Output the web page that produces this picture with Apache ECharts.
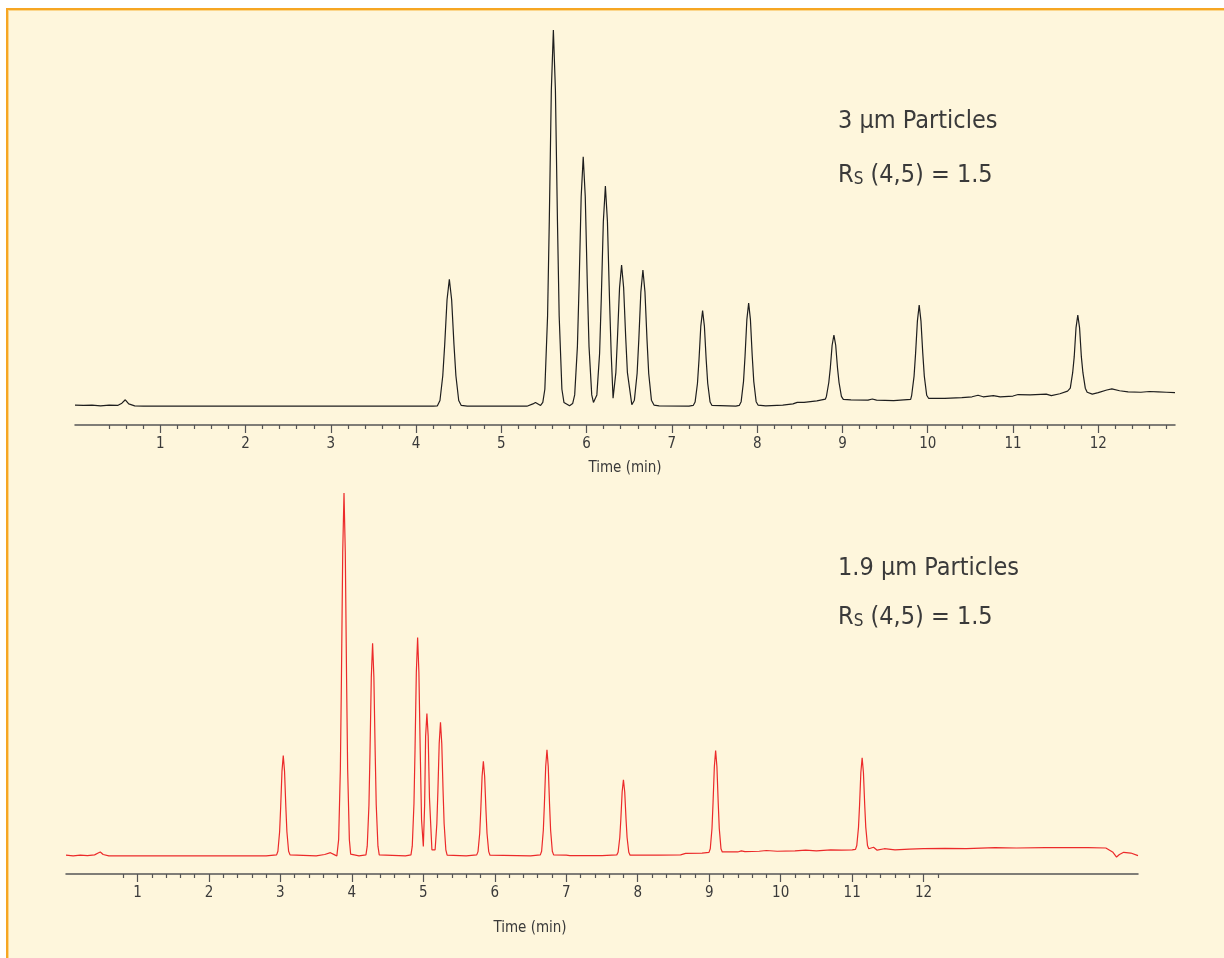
<!DOCTYPE html>
<html>
<head>
<meta charset="utf-8">
<script src="https://cdn.jsdelivr.net/npm/echarts/dist/echarts.min.js"></script>
<style>
  html, body { margin: 0; padding: 0; background: #ffffff; overflow: hidden; }
  #panel { position: absolute; left: 6px; top: 8px; width: 1300px; height: 1000px;
           background: #FEF6DC; border-top: 2px solid #F6A623; border-left: 2px solid #F6A623;
           box-shadow: inset 1px 1px 0 #FBD68C; }
  #chart { position: absolute; left: 0; top: 0; width: 1224px; height: 958px; }
</style>
</head>
<body>
<div id="panel"></div>
<div id="chart"></div>
<script>
// ---- data (time in min, detector signal in relative units) ----
const topTrace = [
  [0.0,0.3],[0.1,0.2],[0.2,0.3],[0.3,0.1],[0.4,0.3],[0.5,0.2],[0.55,0.8],[0.59,1.7],[0.63,0.6],[0.7,0.1],[0.8,0.0],
  [1.5,0.0],[3.0,0.0],[4.2,0.0],
  [4.25,0.1],[4.28,1.5],[4.313,8.1],[4.336,16.5],[4.363,28.3],[4.39,33.7],[4.417,28.3],[4.444,16.5],[4.467,8.1],[4.50,1.5],[4.53,0.2],[4.6,0.0],
  [5.3,0.0],[5.37,0.6],[5.40,1.0],[5.43,0.6],[5.46,0.2],
  [5.486,1.0],[5.51,4.5],[5.542,24],[5.562,49],[5.586,84],[5.61,100],[5.634,84],[5.658,49],[5.678,24],[5.71,4.5],[5.734,1.0],
  [5.80,0.1],
  [5.836,0.7],[5.86,3.0],[5.892,15.9],[5.912,32.5],[5.936,55.7],[5.96,66.3],[5.984,55.7],[6.008,32.5],[6.028,15.9],[6.06,3.0],
  [6.08,1.0],
  [6.12,3.0],[6.152,14],[6.172,28.7],[6.196,49.1],[6.22,58.5],[6.244,49.1],[6.268,28.7],[6.288,14],
  [6.31,2.1],
  [6.343,9.0],[6.362,18.4],[6.386,31.5],[6.41,37.5],[6.434,31.5],[6.458,18.4],[6.478,9.0],
  [6.53,0.4],
  [6.56,1.6],[6.592,8.7],[6.612,17.7],[6.636,30.4],[6.66,36.2],[6.684,30.4],[6.708,17.7],[6.728,8.7],[6.76,1.6],[6.79,0.3],[6.85,0.1],
  [7.2,0.0],
  [7.25,0.2],[7.272,1.1],[7.30,6.1],[7.318,12.4],[7.339,21.3],[7.36,25.4],[7.381,21.3],[7.402,12.4],[7.42,6.1],[7.448,1.1],[7.47,0.2],
  [7.75,0.0],
  [7.79,0.2],[7.812,1.2],[7.84,6.6],[7.858,13.4],[7.879,23],[7.90,27.4],[7.921,23],[7.942,13.4],[7.96,6.6],[7.988,1.2],[8.01,0.3],
  [8.1,0.1],[8.3,0.3],[8.42,0.6],[8.47,1.0],[8.55,1.0],[8.7,1.4],[8.8,1.9],
  [8.812,2.6],[8.84,6.3],[8.858,10.2],[8.879,16.2],[8.90,18.9],[8.921,16.2],[8.942,10.2],[8.96,6.3],[8.988,2.6],[9.01,1.8],
  [9.1,1.7],[9.3,1.6],[9.35,1.9],[9.4,1.6],[9.6,1.5],[9.8,1.8],
  [9.812,2.9],[9.84,8.0],[9.858,14.1],[9.879,22.6],[9.90,26.9],[9.921,22.6],[9.942,14.1],[9.96,8.0],[9.988,2.9],[10.01,2.1],
  [10.2,2.1],[10.4,2.3],[10.52,2.5],[10.59,2.9],[10.65,2.5],[10.77,2.8],[10.85,2.5],[11.0,2.7],[11.06,3.1],[11.2,3.0],[11.39,3.2],[11.45,2.8],[11.55,3.3],[11.64,4.0],
  [11.672,4.8],[11.70,8.9],[11.718,13.1],[11.739,20.8],[11.76,24.2],[11.781,20.8],[11.802,13.1],[11.82,8.9],[11.848,4.8],[11.87,3.7],
  [11.93,3.2],[12.0,3.6],[12.1,4.3],[12.16,4.6],[12.25,4.1],[12.35,3.8],[12.5,3.7],[12.6,3.9],[12.7,3.8],[12.8,3.7],[12.9,3.6]
];

const bottomTrace = [
  [0.0,0.2],[0.1,0.0],[0.2,0.2],[0.3,0.1],[0.4,0.3],[0.45,0.8],[0.48,1.1],[0.52,0.4],[0.6,0.0],[1.5,0.0],[2.8,0.0],
  [2.947,0.3],[2.965,1.3],[2.989,6.7],[3.004,13.6],[3.022,23.4],[3.04,27.8],[3.058,23.4],[3.076,13.6],[3.091,6.7],[3.115,1.3],[3.135,0.3],
  [3.5,0.0],[3.62,0.4],[3.70,0.9],[3.76,0.3],[3.79,0.0],
  [3.797,0.5],[3.815,4.5],[3.839,24],[3.854,49],[3.872,84],[3.89,100.5],[3.908,84],[3.926,49],[3.941,24],[3.965,4.5],[3.983,0.5],
  [4.1,0.0],
  [4.197,0.3],[4.215,2.7],[4.239,14.1],[4.254,28.9],[4.272,49.5],[4.29,58.9],[4.308,49.5],[4.326,28.9],[4.341,14.1],[4.365,2.7],[4.383,0.3],
  [4.75,0.0],
  [4.827,0.3],[4.845,2.7],[4.869,14.5],[4.884,29.6],[4.902,50.8],[4.92,60.5],[4.938,50.8],[4.956,29.6],[4.975,10],
  [5.00,2.6],
  [5.018,14],[5.032,33.1],[5.05,39.4],[5.068,33.1],[5.086,16],
  [5.12,1.7],
  [5.165,1.7],[5.189,8.9],[5.204,18.1],[5.222,31.1],[5.24,37],[5.258,31.1],[5.276,18.1],[5.291,8.9],[5.315,1.7],[5.333,0.2],
  [5.6,0.0],
  [5.747,0.3],[5.765,1.2],[5.789,6.3],[5.804,12.8],[5.822,22],[5.84,26.2],[5.858,22],[5.876,12.8],[5.891,6.3],[5.915,1.2],[5.933,0.2],
  [6.5,0.0],
  [6.637,0.3],[6.655,1.3],[6.679,7.1],[6.694,14.4],[6.712,24.7],[6.73,29.4],[6.748,24.7],[6.766,14.4],[6.781,7.1],[6.805,1.3],[6.823,0.3],
  [7.0,0.2],[7.02,0.5],[7.05,0.1],[7.5,0.1],
  [7.707,0.3],[7.725,1.0],[7.749,5.1],[7.764,10.3],[7.782,17.7],[7.80,21.1],[7.818,17.7],[7.836,10.3],[7.851,5.1],[7.875,1.0],[7.893,0.2],
  [8.3,0.2],[8.6,0.3],[8.67,0.7],[8.9,0.8],
  [8.997,1.0],[9.015,2.0],[9.039,7.6],[9.054,14.8],[9.072,24.7],[9.09,29.2],[9.108,24.7],[9.126,14.8],[9.141,7.6],[9.165,2.0],[9.183,1.1],
  [9.4,1.1],[9.45,1.4],[9.5,1.2],[9.7,1.3],[9.8,1.5],[9.95,1.3],[10.2,1.4],[10.35,1.6],[10.5,1.4],[10.7,1.7],[10.85,1.6],[11.0,1.7],
  [11.047,1.8],[11.065,2.9],[11.089,7.9],[11.104,14.1],[11.122,23.1],[11.14,27.2],[11.158,23.1],[11.176,14.1],[11.191,7.9],[11.215,2.9],[11.233,2.0],
  [11.3,2.4],[11.35,1.6],[11.45,2.0],[11.6,1.7],[11.8,1.9],[12.0,2.0],[12.3,2.1],[12.6,2.0],[13.0,2.3],[13.3,2.2],[13.7,2.3],[14.0,2.3],[14.3,2.3],
  [14.55,2.2],[14.65,1.0],[14.7,-0.3],[14.74,0.4],[14.8,1.0],[14.9,0.8],[15.0,0.1]
];

const majorTicks = [1,2,3,4,5,6,7,8,9,10,11,12];
const topMinorTicks = [0.4,0.6,0.8,1.2,1.4,1.6,1.8,2.2,2.4,2.6,2.8,3.2,3.4,3.6,3.8,4.2,4.4,4.6,4.8,5.2,5.4,5.6,5.8,6.2,6.4,6.6,6.8,
  7.2,7.4,7.6,7.8,8.2,8.4,8.6,8.8,9.2,9.4,9.6,9.8,10.2,10.4,10.6,10.8,11.2,11.4,11.6,11.8,12.2,12.4,12.6,12.8];
const bottomMinorTicks = [0.8,1.2,1.4,1.6,1.8,2.2,2.4,2.6,2.8,3.2,3.4,3.6,3.8,4.2,4.4,4.6,4.8,5.2,5.4,5.6,5.8,6.2,6.4,6.6,6.8,
  7.2,7.4,7.6,7.8,8.2,8.4,8.6,8.8,9.2,9.4,9.6,9.8,10.2,10.4,10.6,10.8,11.2,11.4,11.6,11.8,12.2];

const axisTitle = 'Time (min)';
const topTitle = '3 µm Particles';
const bottomTitle = '1.9 µm Particles';
const resolutionText = ' (4,5) = 1.5';

// ---- chart ----
const FONT = "'Liberation Sans Narrow','DejaVu Sans Condensed','Roboto',sans-serif";
const TXT = '#3a3a3a';
const AX = '#555555';

function majorAxis(grid, max) {
  return {
    type: 'value', gridIndex: grid, min: 0, max: max, position: 'bottom',
    axisLine: { show: true, onZero: false, lineStyle: { color: AX, width: 1.5 } },
    axisTick: { show: true, customValues: majorTicks, length: 8, inside: false, lineStyle: { color: AX, width: 1.2 } },
    axisLabel: { show: true, customValues: majorTicks, margin: 12, color: TXT, fontSize: 15, fontFamily: FONT },
    splitLine: { show: false }
  };
}
function minorAxis(grid, max, ticks) {
  return {
    type: 'value', gridIndex: grid, min: 0, max: max, position: 'bottom',
    axisLine: { show: false, onZero: false },
    axisTick: { show: true, customValues: ticks, length: 4, lineStyle: { color: AX, width: 1.2 } },
    axisLabel: { show: false },
    splitLine: { show: false }
  };
}

const xTopMajor = majorAxis(0, 12.9);
xTopMajor.name = axisTitle;
xTopMajor.nameLocation = 'middle';
xTopMajor.nameGap = 36;
xTopMajor.nameTextStyle = { color: TXT, fontSize: 15, fontFamily: FONT };

function rsText(topPx) {
  return { type: 'text', left: 838, top: topPx, style: {
    text: '{r|R}{s|S}{r|' + resolutionText + '}', fill: TXT,
    rich: { r: { fontSize: 25, lineHeight: 30, fontFamily: FONT, fill: TXT, verticalAlign: 'bottom' },
            s: { fontSize: 17, lineHeight: 10, fontFamily: FONT, fill: TXT, verticalAlign: 'bottom' } } } };
}

const chart = echarts.init(document.getElementById('chart'), null, { renderer: 'canvas' });
chart.setOption({
  animation: false,
  backgroundColor: 'transparent',
  grid: [
    { left: 75, width: 1100, top: 22.5, bottom: 533 },
    { left: 66, width: 1072, top: 487.5, bottom: 84 }
  ],
  xAxis: [
    xTopMajor,
    minorAxis(0, 12.9, topMinorTicks),
    majorAxis(1, 15),
    minorAxis(1, 15, bottomMinorTicks)
  ],
  yAxis: [
    { type: 'value', gridIndex: 0, min: -5, max: 102, show: false },
    { type: 'value', gridIndex: 1, min: -5, max: 102, show: false }
  ],
  series: [
    { type: 'line', xAxisIndex: 0, yAxisIndex: 0, data: topTrace, showSymbol: false, clip: false,
      lineStyle: { color: '#1e1e1e', width: 1.2 }, silent: true },
    { type: 'line', xAxisIndex: 2, yAxisIndex: 1, data: bottomTrace, showSymbol: false, clip: false,
      lineStyle: { color: '#ec2a2a', width: 1.2 }, silent: true }
  ],
  graphic: [
    { type: 'text', left: 838, top: 109, style: { text: topTitle, fill: TXT, font: '25px ' + FONT } },
    rsText(163),
    { type: 'text', left: 838, top: 556, style: { text: bottomTitle, fill: TXT, font: '25px ' + FONT } },
    rsText(605),
    { type: 'text', x: 530, y: 928, style: { text: axisTitle, fill: TXT, font: '15px ' + FONT, align: 'center', verticalAlign: 'middle' } }
  ]
});
</script>
</body>
</html>
